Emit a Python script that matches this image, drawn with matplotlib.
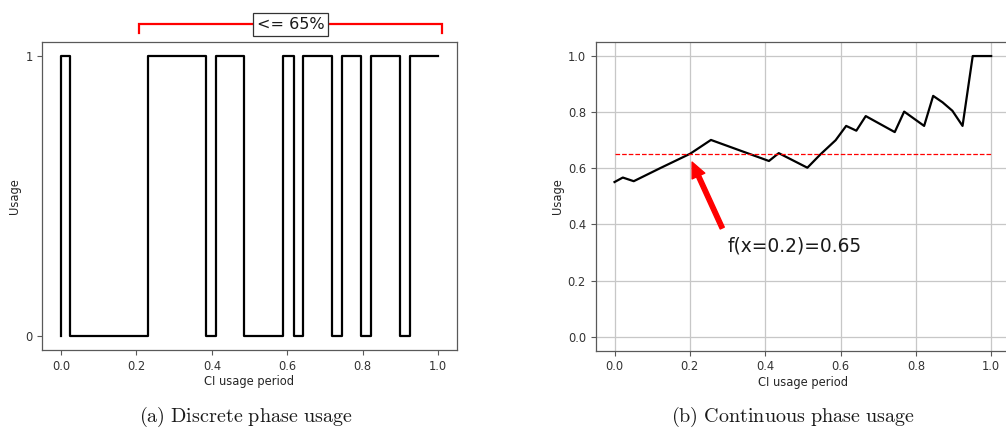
import matplotlib
matplotlib.use("Agg")
import matplotlib.pyplot as plt

# ---- data ----
disc_switch_x = [0.0, 0.024, 0.231, 0.384, 0.411, 0.486, 0.590, 0.617, 0.643,
                 0.719, 0.745, 0.797, 0.823, 0.899, 0.925, 1.0]
disc_state = [1, 0, 1, 0, 1, 0, 1, 0, 1, 0, 1, 0, 1, 0, 1, 1]

cont_x = [0.0, 0.022, 0.051, 0.122, 0.201, 0.256, 0.410, 0.436, 0.512, 0.547,
          0.587, 0.615, 0.642, 0.667, 0.744, 0.769, 0.822, 0.846, 0.871, 0.897,
          0.924, 0.951, 1.0]
cont_y = [0.551, 0.567, 0.554, 0.601, 0.652, 0.701, 0.626, 0.654, 0.602, 0.650,
          0.700, 0.751, 0.734, 0.786, 0.729, 0.802, 0.751, 0.858, 0.835, 0.805,
          0.751, 1.0, 1.0]

threshold = 0.65
x_ticks = [0.0, 0.2, 0.4, 0.6, 0.8, 1.0]
x_ticklabels = ["0.0", "0.2", "0.4", "0.6", "0.8", "1.0"]
left_yticks = [0, 1]
right_yticks = [0.0, 0.2, 0.4, 0.6, 0.8, 1.0]
bracket_x = [0.206, 1.012]
bracket_label = "<= 65%"
annot_label = "f(x=0.2)=0.65"
caption_a = r"$\mathrm{(a)\ Discrete\ phase\ usage}$"
caption_b = r"$\mathrm{(b)\ Continuous\ phase\ usage}$"

plt.rcParams["mathtext.fontset"] = "cm"

fig = plt.figure(figsize=(10.06, 4.34), dpi=100)
W, H = 1006, 434

def axpos(l, r, t, b):
    return [l / W, 1 - b / H, (r - l) / W, (b - t) / H]

spine_col = "0.35"
tick_fs = 8.3

ax1 = fig.add_axes(axpos(42.3, 456.7, 42, 350))
ax2 = fig.add_axes(axpos(595.7, 1010, 42, 350.7))

for ax in (ax1, ax2):
    for s in ax.spines.values():
        s.set_color(spine_col)
        s.set_linewidth(0.9)
    ax.tick_params(colors="0.2", labelsize=tick_fs, length=3.5, width=0.8)
    ax.tick_params(axis="both", color=spine_col)
    ax.set_xlabel("CI usage period", fontsize=tick_fs, color="0.15", labelpad=2)
    ax.set_ylabel("Usage", fontsize=tick_fs, color="0.15", labelpad=3)
    ax.set_xticks(x_ticks)
    ax.set_xticklabels(x_ticklabels)
    ax.set_xlim(-0.05, 1.05)
    ax.set_ylim(-0.05, 1.05)

# left: discrete
xs = [disc_switch_x[0]] + disc_switch_x
ys = [0] + disc_state
ax1.plot(xs, ys, drawstyle="steps-post", color="black", lw=1.6)
ax1.set_yticks(left_yticks)
ax1.set_yticklabels([str(v) for v in left_yticks])

# bracket
by, bt = 1.114, 1.082
ax1.plot([bracket_x[0], bracket_x[0], bracket_x[1], bracket_x[1]],
         [bt, by, by, bt], color="red", lw=1.6, clip_on=False,
         solid_joinstyle="miter")
ax1.text((bracket_x[0] + bracket_x[1]) / 2 - 0.0, by, bracket_label,
         ha="center", va="center", fontsize=11.5, color="0.1",
         bbox=dict(boxstyle="square,pad=0.25", fc="white", ec="0.2", lw=0.9),
         clip_on=False)

# right: continuous
ax2.grid(True, color="0.78", lw=0.9)
ax2.set_axisbelow(True)
ax2.plot(cont_x, cont_y, color="black", lw=1.6)
ax2.hlines(threshold, 0.0, 1.0, colors="red", linestyles="--", lw=0.9)
ax2.set_yticks(right_yticks)
ax2.set_yticklabels(["%.1f" % v for v in right_yticks])
ax2.annotate("", xy=(0.206, 0.622), xytext=(0.286, 0.387),
             arrowprops=dict(facecolor="red", edgecolor="red", width=3.2,
                             headwidth=10, headlength=11, shrink=0.0))
ax2.text(0.299, 0.324, annot_label, fontsize=13.4, color="0.1",
         ha="left", va="center")

fig.text(246 / W, 1 - 417 / H, caption_a, ha="center", va="center",
         fontsize=14.5, color="0.1")
fig.text(793 / W, 1 - 417 / H, caption_b, ha="center", va="center",
         fontsize=14.5, color="0.1")

fig.savefig("out.png", dpi=100)
